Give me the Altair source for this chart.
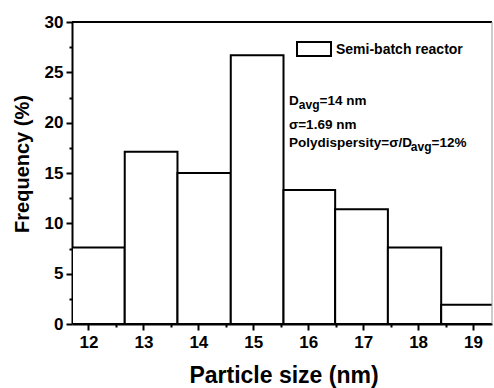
import altair as alt
import pandas as pd

# data
bin_lo = [11.70, 12.66, 13.62, 14.59, 15.55, 16.49, 17.45, 18.42]
bin_hi = [12.66, 13.62, 14.59, 15.55, 16.49, 17.45, 18.42, 19.38]
freq = [7.6, 17.1, 15.0, 26.7, 13.3, 11.4, 7.6, 1.9]
x_ticks = [12, 12.5, 13, 13.5, 14, 14.5, 15, 15.5, 16, 16.5, 17, 17.5, 18, 18.5, 19]
y_ticks = [0, 2.5, 5, 7.5, 10, 12.5, 15, 17.5, 20, 22.5, 25, 27.5, 30]
legend_label = "Semi-batch reactor"
x_title = "Particle size (nm)"
y_title = "Frequency (%)"

FONT = "Liberation Sans"
W, H = 420, 302

df = pd.DataFrame({"lo": bin_lo, "hi": bin_hi, "f": freq})

xscale = alt.Scale(domain=[11.70, 19.345], nice=False, zero=False)
yscale = alt.Scale(domain=[0, 30], nice=False)

xaxis = alt.Axis(
    values=x_ticks, title=None,
    labelExpr="datum.value % 1 === 0 ? format(datum.value, 'd') : ''",
    labelFont=FONT, labelFontWeight="bold", labelFontSize=17, labelColor="black",
    labelPadding=4, labelFlush=False,
    tickSize={"condition": {"test": "datum.value % 1 === 0", "value": 6}, "value": 3},
    tickWidth=2, tickColor="black", domainColor="black", domainWidth=2, grid=False,
)
yaxis = alt.Axis(
    values=y_ticks, title=None,
    labelExpr="datum.value % 5 === 0 ? format(datum.value, 'd') : ''",
    labelFont=FONT, labelFontWeight="bold", labelFontSize=17, labelColor="black",
    labelPadding=3, labelFlush=False,
    tickSize={"condition": {"test": "datum.value % 5 === 0", "value": 6}, "value": 3},
    tickWidth=2, tickColor="black", domainColor="black", domainWidth=2, grid=False,
)

bars = alt.Chart(df).mark_rect(fill="white", stroke="black", strokeWidth=2, clip=True).encode(
    x=alt.X("lo:Q", scale=xscale, axis=xaxis),
    x2="hi:Q",
    y=alt.Y("f:Q", scale=yscale, axis=yaxis),
    y2=alt.datum(0),
)

top_line = alt.Chart(pd.DataFrame({"a": [0]})).mark_rule(color="black", strokeWidth=2).encode(
    x=alt.value(0), x2=alt.value(W), y=alt.value(0)
)
right_line = alt.Chart(pd.DataFrame({"a": [0]})).mark_rule(color="#999999", strokeWidth=1).encode(
    x=alt.value(W), y=alt.value(0), y2=alt.value(H)
)

legend_box = alt.Chart(pd.DataFrame({"a": [0]})).mark_rect(fill="white", stroke="black", strokeWidth=2).encode(
    x=alt.value(225), x2=alt.value(259), y=alt.value(20), y2=alt.value(34)
)
legend_text = alt.Chart(pd.DataFrame({"t": [legend_label]})).mark_text(
    font=FONT, fontWeight="bold", fontSize=14, align="left", baseline="alphabetic", color="black"
).encode(x=alt.value(264), y=alt.value(32), text="t:N")

ann_rows = pd.DataFrame({
    "t": ["D", "avg", "=14 nm", "σ=1.69 nm", "Polydispersity=σ/D", "avg", "=12%"],
    "x": [217, 226.8, 247.5, 217, 217, 338.8, 359.5],
    "y": [83, 87, 83, 107, 124.7, 128.7, 124.7],
    "s": [13.5, 12, 13.5, 13.5, 13.5, 12, 13.5],
})
ann_layers = []
for _, r in ann_rows.iterrows():
    ann_layers.append(
        alt.Chart(pd.DataFrame({"t": [r["t"]]})).mark_text(
            font=FONT, fontWeight="bold", fontSize=float(r["s"]), align="left",
            baseline="alphabetic", color="black"
        ).encode(x=alt.value(float(r["x"])), y=alt.value(float(r["y"])), text="t:N")
    )

xt = alt.Chart(pd.DataFrame({"t": [x_title]})).mark_text(
    font=FONT, fontWeight="bold", fontSize=23, align="center", baseline="alphabetic", color="black"
).encode(x=alt.value(212), y=alt.value(361), text="t:N")
yt = alt.Chart(pd.DataFrame({"t": [y_title]})).mark_text(
    font=FONT, fontWeight="bold", fontSize=20, align="center", baseline="middle", angle=270, color="black"
).encode(x=alt.value(-49), y=alt.value(142), text="t:N")

chart = alt.layer(bars, top_line, right_line, legend_box, legend_text, *ann_layers, xt, yt).properties(
    width=W, height=H,
    padding={"left": 72, "top": 22, "right": 2, "bottom": 64},
    autosize=alt.AutoSizeParams(type="none"),
    background="white",
).configure_view(stroke=None)

chart.save("out.html", embed_options={"renderer": "svg", "actions": False})
